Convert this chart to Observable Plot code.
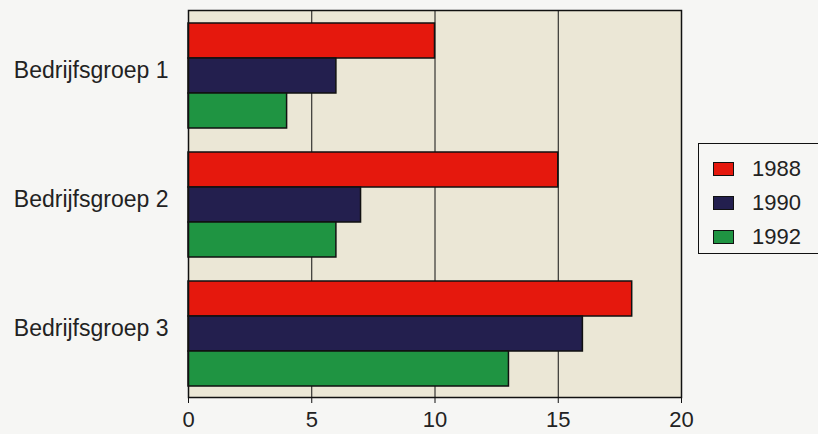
<!DOCTYPE html>
<html>
<head>
<meta charset="utf-8">
<script src="https://cdn.jsdelivr.net/npm/d3@7"></script>
<script src="https://cdn.jsdelivr.net/npm/@observablehq/plot@0.6"></script>
<style>
  html, body { margin: 0; padding: 0; background: #f6f6f4; }
  #wrap { position: relative; width: 818px; height: 434px; overflow: hidden; font-family: "Liberation Sans", Arial, Helvetica, sans-serif; }
  #legend { position: absolute; left: 698px; top: 143px; width: 140px; height: 111px; border: 1.5px solid #111; box-sizing: border-box; }
  #legend .row { position: absolute; left: 14px; display: flex; align-items: center; font-size: 22px; color: #222; }
  #legend .sw { width: 21px; height: 14px; border: 1.5px solid #111; margin-right: 18px; box-sizing: border-box; }
</style>
</head>
<body>
<div id="wrap"><div id="chart"></div><div id="legend"></div></div>
<script>
// Business groups, years and the value for each group per year
const groups = ["Bedrijfsgroep 1", "Bedrijfsgroep 2", "Bedrijfsgroep 3"];
const years = ["1988", "1990", "1992"];
const values1988 = [10, 15, 18];
const values1990 = [6, 7, 16];
const values1992 = [4, 6, 13];
const xTicks = [0, 5, 10, 15, 20];
const colors = ["#e5180d", "#231f4e", "#1f9442"];

const series = [values1988, values1990, values1992];
const data = [];
groups.forEach((g, gi) => {
  years.forEach((yr, yi) => data.push({group: g, year: yr, value: series[yi][gi]}));
});

const chart = Plot.plot({
  width: 818,
  height: 434,
  marginLeft: 188,
  marginRight: 137,
  marginTop: 10,
  marginBottom: 37,
  style: {
    fontFamily: "'Liberation Sans', Arial, Helvetica, sans-serif",
    fontSize: "23px",
    color: "#222",
    background: "transparent"
  },
  x: {domain: [0, 20]},
  y: {domain: years, axis: null, paddingInner: 0, paddingOuter: 0.31, align: 0.55},
  fy: {domain: groups, padding: 0},
  color: {domain: years, range: colors},
  marks: [
    Plot.frame({fill: "#ebe7d6", facet: "super"}),
    Plot.ruleX(xTicks.slice(1, -1), {stroke: "#111", strokeWidth: 1}),
    Plot.barX(data, {x: "value", y: "year", fy: "group", fill: "year", stroke: "#111", strokeWidth: 1.5}),
    Plot.frame({stroke: "#111", strokeWidth: 1.5, facet: "super"}),
    Plot.axisX({ticks: xTicks, tickSize: 6, tickPadding: 8, fontSize: 22, label: null, stroke: "#111"}),
    Plot.axisFy({anchor: "left", tickSize: 0, tickPadding: 20, label: null, dy: -4})
  ]
});
document.getElementById("chart").append(chart);

// Legend box with one swatch per year
const legend = document.getElementById("legend");
years.forEach((yr, i) => {
  const row = document.createElement("div");
  row.className = "row";
  row.style.top = (12 + i * 34) + "px";
  const sw = document.createElement("div");
  sw.className = "sw";
  sw.style.background = colors[i];
  const label = document.createElement("span");
  label.textContent = yr;
  row.append(sw, label);
  legend.append(row);
});
</script>
</body>
</html>
